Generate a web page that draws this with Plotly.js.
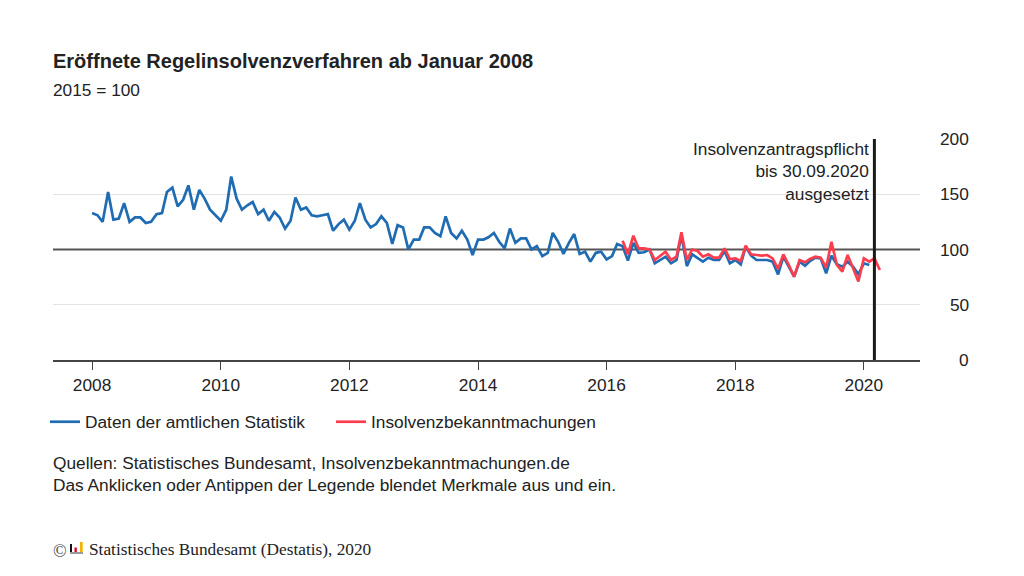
<!DOCTYPE html>
<html><head><meta charset="utf-8">
<script src="https://cdn.plot.ly/plotly-3.0.1.min.js"></script>
<style>html,body{margin:0;padding:0;background:#fff}#chart{width:1024px;height:576px}</style>
</head><body><div id="chart"></div>
<script>
// Data: monthly index values (2015 = 100)
const blueStart = [2008, 1];
const blueValues = [
  133, 131, 125, 152, 127, 128, 142, 125, 129, 129, 124, 125,   // 2008
  132, 133, 152, 156, 139, 145, 158, 136, 154, 146, 136, 131,   // 2009
  126, 136, 166, 146, 136, 140, 143, 132, 136, 126, 134, 129,   // 2010
  119, 126, 147, 136, 138, 131, 130, 131, 132, 117, 123, 127,   // 2011
  118, 126, 142, 127, 120, 123, 130, 124, 105, 122, 120, 100,   // 2012
  109, 109, 120, 120, 115, 112, 130, 115, 110, 117, 109, 95,    // 2013
  109, 109, 111, 115, 107, 101, 119, 106, 110, 110, 100, 103,   // 2014
  94, 97, 115, 107, 96, 106, 114, 96, 98, 89, 97, 98,           // 2015
  91, 94, 105, 103, 90, 106, 97, 97.5, 100, 87.5, 90.5, 93.5,   // 2016
  87.5, 90.5, 113, 85, 95.6, 92.6, 89, 92.6, 90.5, 90.5, 98.6, 87.5, // 2017
  90.5, 86.6, 102.5, 94.4, 90.5, 90.5, 90.5, 89, 77.5, 93.5, 84.5, 75.4, // 2018
  89, 85.4, 89.6, 92.6, 92, 78.5, 94.4, 86.6, 84.5, 89, 84.5, 77.5, // 2019
  87.5, 86                                                      // 2020
];
const redStart = [2016, 4];
const redValues = [
  108, 95.6, 112.5, 101, 101, 100, 90.5, 94.4, 98,              // 2016 Apr-Dec
  90.5, 93.5, 115.5, 90.5, 100, 98.6, 93.5, 95.6, 92.6, 92.6, 101, 91.4, // 2017
  92, 89.6, 103.4, 95.6, 95, 94.4, 95, 92, 82.4, 95.6, 86, 75.4, // 2018
  90.5, 88.4, 91.4, 93.5, 92.6, 83.5, 107, 86, 80, 95, 83, 71,  // 2019
  92, 89, 92, 81.4                                              // 2020
];
const seriesNames = ["Daten der amtlichen Statistik", "Insolvenzbekanntmachungen"];
const yTicks = [0, 50, 100, 150, 200];
const yGrid = [50, 150, 200];
const referenceLevel = 100;
const xTickYears = [2008, 2010, 2012, 2014, 2016, 2018, 2020];
const markerDate = "2020-03-01";
const markerText = "Insolvenzantragspflicht<br>bis 30.09.2020<br>ausgesetzt";
const titleText = "Eröffnete Regelinsolvenzverfahren ab Januar 2008";
const subtitleText = "2015 = 100";
const sourceText = "Quellen: Statistisches Bundesamt, Insolvenzbekanntmachungen.de<br>Das Anklicken oder Antippen der Legende blendet Merkmale aus und ein.";
const copyrightText = "Statistisches Bundesamt (Destatis), 2020";

function monthDates(start, n) {
  const out = [];
  let y = start[0], m = start[1];
  for (let i = 0; i < n; i++) {
    out.push(y + "-" + String(m).padStart(2, "0") + "-01");
    m++; if (m > 12) { m = 1; y++; }
  }
  return out;
}

const W = 1024, H = 576;
const L = 53, R = 104, T = 139, B = 216;
const pw = W - L - R, ph = H - T - B;
const px = v => (v - L) / pw;
const py = v => (H - B - v) / ph;

const FONT = "Liberation Sans, Arial, sans-serif";
const SERIF = "Liberation Serif, Times New Roman, serif";
const TXT = "#222";
const FS = 17.3;

const traces = [
  {x: monthDates(blueStart, blueValues.length), y: blueValues, name: seriesNames[0],
   type: "scatter", mode: "lines", line: {color: "#1f6cb3", width: 2.7}, hoverinfo: "x+y"},
  {x: monthDates(redStart, redValues.length), y: redValues, name: seriesNames[1],
   type: "scatter", mode: "lines", line: {color: "#fb3d4e", width: 2.7}, hoverinfo: "x+y"}
];

const annotations = yTicks.map(t => ({
  xref: "paper", yref: "y", x: px(971), y: t, text: String(t), showarrow: false,
  xanchor: "right", yanchor: "middle", font: {family: FONT, size: FS, color: TXT}
}));
annotations.push(
  {xref: "x", yref: "paper", x: markerDate, y: py(137), text: markerText, showarrow: false,
   xanchor: "right", yanchor: "top", align: "right", xshift: -3,
   font: {family: FONT, size: FS, color: TXT}},
  {xref: "paper", yref: "paper", x: px(51), y: py(90), text: subtitleText, showarrow: false,
   xanchor: "left", yanchor: "middle", font: {family: FONT, size: FS, color: TXT}},
  {xref: "paper", yref: "paper", x: px(51), y: py(474), text: sourceText, showarrow: false,
   xanchor: "left", yanchor: "middle", align: "left", font: {family: FONT, size: FS, color: TXT}},
  {xref: "paper", yref: "paper", x: px(51), y: py(551), text: "©", showarrow: false,
   xanchor: "left", yanchor: "middle", font: {family: SERIF, size: 18, color: "#444"}},
  {xref: "paper", yref: "paper", x: px(87), y: py(549), text: copyrightText, showarrow: false,
   xanchor: "left", yanchor: "middle", font: {family: SERIF, size: 17.3, color: TXT}}
);

const rect = (x0, y0, x1, y1, c) => ({type: "rect", xref: "paper", yref: "paper",
  x0: px(x0), x1: px(x1), y0: py(y1), y1: py(y0), fillcolor: c, line: {width: 0}, layer: "above"});

const shapes = [
  {type: "line", xref: "paper", yref: "y", x0: 0, x1: 1, y0: referenceLevel, y1: referenceLevel,
   line: {color: "#555", width: 2}, layer: "below"},
  {type: "line", xref: "x", yref: "paper", x0: markerDate, x1: markerDate, y0: 0, y1: 1,
   line: {color: "#1a1a1a", width: 3}, layer: "above"},
  rect(70, 544, 72, 552, "#111"),
  rect(74.5, 547.5, 76.8, 552, "#e2001a"),
  rect(80, 542, 82.7, 552, "#f0b400"),
  rect(70, 552, 83, 554, "#999")
];

const layout = {
  width: W, height: H,
  margin: {l: L, r: R, t: T, b: B, pad: 0},
  paper_bgcolor: "#fff", plot_bgcolor: "#fff",
  font: {family: FONT, size: FS, color: TXT},
  title: {text: "<b>" + titleText + "</b>", x: 53 / W, xref: "container",
          xanchor: "left", y: 1 - 61 / H, yref: "container", yanchor: "middle",
          font: {family: FONT, size: 20, color: TXT}},
  xaxis: {type: "date", range: ["2007-05-24", "2020-11-15"],
          tickvals: xTickYears.map(y => y + "-01-01"), ticktext: xTickYears.map(String),
          showgrid: false, zeroline: false, showline: true, linecolor: "#444", linewidth: 2,
          ticks: "outside", ticklen: 8, tickcolor: "#444", tickwidth: 1,
          tickfont: {family: FONT, size: FS, color: TXT}, fixedrange: true},
  yaxis: {range: [0, 200], tickvals: yGrid, showticklabels: false, showgrid: true,
          gridcolor: "#e3e3e3", gridwidth: 1, zeroline: false, showline: false, ticks: "",
          fixedrange: true},
  showlegend: true,
  legend: {orientation: "h", x: px(45), xanchor: "left", y: py(422), yanchor: "middle",
           font: {family: FONT, size: FS, color: TXT}, entrywidth: 241, entrywidthmode: "pixels",
           bgcolor: "rgba(0,0,0,0)"},
  annotations: annotations,
  shapes: shapes
};

Plotly.newPlot("chart", traces, layout, {displayModeBar: false, responsive: false});
</script></body></html>
